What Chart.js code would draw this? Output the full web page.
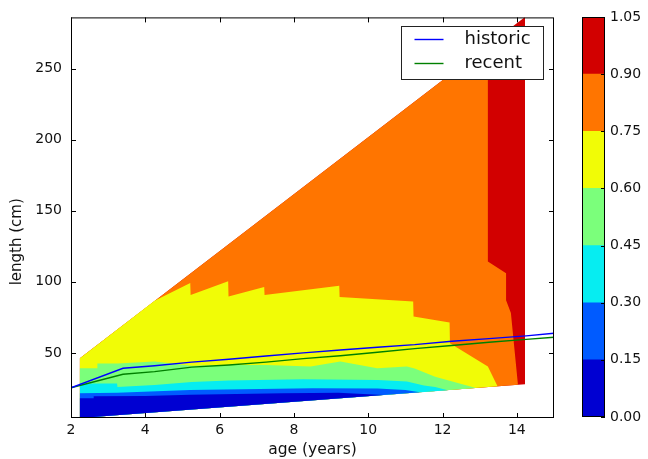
<!DOCTYPE html>
<html>
<head>
<meta charset="utf-8">
<script src="https://cdn.jsdelivr.net/npm/chart.js@4.4.1/dist/chart.umd.min.js"></script>
<style>
  html, body { margin: 0; padding: 0; background: #fff; }
  .wrap { position: relative; width: 648px; height: 459px; }
  .wrap canvas { position: absolute; left: 0; top: 0; }
</style>
</head>
<body>
<div class="wrap">
  <canvas id="contourChart" width="648" height="459"></canvas>
  <canvas id="colorbar" width="648" height="459"></canvas>
</div>
<script>
// ============================================
//  DATA
// ============================================
const ageTicks = [2, 4, 6, 8, 10, 12, 14];
const lengthTicks = [50, 100, 150, 200, 250];
const levels = [0, 0.15, 0.30, 0.45, 0.60, 0.75, 0.90, 1.05];
const bandColors = ['#0000d2', '#005bff', '#06edf1', '#7bff7b', '#f1fc06', '#ff7500', '#d20000'];

// corner where the sampled region starts (bottom left)
const cornerAge = 2.24;
const cornerLen = 4.2;

// upper edge of each filled level (age -> length), ending on the lower edge
const top15Age = [2.24, 2.6, 2.61, 4.0, 5.2, 7.7, 8.5, 9.2, 10.4];
const top15Len = [18.1, 18.1, 19.5, 19.7, 20.6, 21.6, 21.8, 22.0, 20.4];

const top30Age = [2.24, 3.25, 5.2, 8.5, 10.25, 11.0, 11.39];
const top30Len = [21.6, 22.0, 23.9, 25.1, 25.0, 23.9, 22.3];

const top45Age = [2.24, 3.24, 3.25, 4.25, 5.25, 6.25, 8.25, 10.25, 11.04, 11.5, 11.8, 12.14];
const top45Len = [28.5, 28.5, 26.0, 27.5, 29.5, 30.5, 31.5, 31.0, 29.8, 27.0, 26.0, 23.8];

const top60Age = [2.24, 2.7, 2.71, 3.25, 4.25, 5.25, 6.25, 7.25, 8.45, 9.25, 10.24, 11.04, 11.25, 11.8, 12.9];
const top60Len = [39.2, 39.2, 42.5, 42.5, 44.0, 41.0, 41.5, 41.5, 40.4, 43.9, 39.2, 40.4, 39.0, 33.3, 25.3];

const top75Age = [2.24, 4.25, 5.21, 5.22, 6.23, 6.24, 7.2, 7.21, 9.22, 9.23, 11.21, 11.22, 12.19, 12.2, 13.22, 13.48];
const top75Len = [46.3, 86.6, 99.1, 90.8, 100.4, 89.6, 96.3, 90.8, 97.3, 89.4, 86.1, 75.6, 71.3, 56.8, 40.4, 26.5];

const top90Age = [2.24, 13.22, 13.22, 13.71, 13.71, 13.84, 14.03];
const top90Len = [46.3, 266.2, 114.3, 106.1, 87.0, 78.0, 27.6];

const top105Age = [2.24, 14.22, 14.22];
const top105Len = [46.3, 286.3, 28.0];

// growth curves
const curveAge = [2, 3.4, 4.25, 5.25, 6.25, 7.25, 8.25, 9.25, 10.25, 11.25, 12.25, 13.25, 14.25, 15];
const historicLen = [25.5, 39.2, 41.0, 43.5, 45.5, 47.8, 50.0, 52.0, 54.0, 55.8, 58.2, 60.0, 62.0, 63.8];
const recentLen = [25.5, 35.0, 36.8, 40.0, 41.5, 43.5, 46.0, 48.0, 50.5, 53.0, 55.2, 57.5, 59.5, 61.0];

const seriesNames = ['historic', 'recent'];
const seriesColors = ['#0000ff', '#008000'];

// ============================================
//  BUILD DATASETS
// ============================================
const bandTops = [
  [top15Age, top15Len], [top30Age, top30Len], [top45Age, top45Len], [top60Age, top60Len],
  [top75Age, top75Len], [top90Age, top90Len], [top105Age, top105Len]
];

// region below a level line, closed back to the bottom-left corner
function regionBelow(ages, lens) {
  const pts = ages.map((a, i) => ({ x: a, y: lens[i] }));
  pts.push({ x: cornerAge, y: cornerLen });
  return pts;
}

// higher levels are painted first, lower ones on top
const bandSets = bandTops.map(([ages, lens], i) => ({
  label: levels[i].toFixed(2) + '-' + levels[i + 1].toFixed(2),
  data: regionBelow(ages, lens),
  backgroundColor: bandColors[i],
  borderColor: 'rgba(0,0,0,0)',
  borderWidth: 0,
  pointRadius: 0,
  tension: 0,
  fill: 'shape',
  order: i + 1
}));

const curveSets = [historicLen, recentLen].map((lens, i) => ({
  label: seriesNames[i],
  data: curveAge.map((a, j) => ({ x: a, y: lens[j] })),
  borderColor: seriesColors[i],
  borderWidth: 1.4,
  pointRadius: 0,
  tension: 0,
  fill: false,
  order: 0
}));

const FONT = 'DejaVu Sans';
const TXT = '#111';

// ============================================
//  FRAME, INWARD TICKS, Y TITLE, LEGEND
// ============================================
const framePlugin = {
  id: 'frame',
  afterDraw(chart) {
    const { ctx, chartArea: a, scales } = chart;
    ctx.save();
    ctx.strokeStyle = '#000';
    ctx.lineWidth = 1;
    ctx.strokeRect(a.left + 0.5, a.top + 0.5, a.width - 1, a.height - 1);

    ctx.beginPath();
    ageTicks.forEach(v => {
      const px = Math.round(scales.x.getPixelForValue(v)) + 0.5;
      ctx.moveTo(px, a.bottom); ctx.lineTo(px, a.bottom - 5);
      ctx.moveTo(px, a.top); ctx.lineTo(px, a.top + 5);
    });
    lengthTicks.forEach(v => {
      const py = Math.round(scales.y.getPixelForValue(v)) + 0.5;
      ctx.moveTo(a.left, py); ctx.lineTo(a.left + 5, py);
      ctx.moveTo(a.right, py); ctx.lineTo(a.right - 5, py);
    });
    ctx.stroke();

    // y axis title, sits a bit below the middle of the frame
    ctx.save();
    ctx.translate(17, a.top + a.height * 0.56);
    ctx.rotate(-Math.PI / 2);
    ctx.font = '15px "' + FONT + '"';
    ctx.fillStyle = TXT;
    ctx.textAlign = 'center';
    ctx.textBaseline = 'middle';
    ctx.fillText('length (cm)', 0, 0);
    ctx.restore();

    // legend box, upper right
    const bw = 142, bh = 53;
    const bx = Math.round(a.right - 11 - bw) + 0.5;
    const by = Math.round(a.top + 9) + 0.5;
    ctx.fillStyle = '#fff';
    ctx.fillRect(bx, by, bw, bh);
    ctx.strokeStyle = '#222';
    ctx.strokeRect(bx, by, bw, bh);

    ctx.font = '18px "' + FONT + '"';
    ctx.textBaseline = 'middle';
    ctx.textAlign = 'left';
    seriesNames.forEach((name, i) => {
      const ry = by + 13 + i * 24;
      ctx.strokeStyle = seriesColors[i];
      ctx.lineWidth = 1.4;
      ctx.beginPath();
      ctx.moveTo(bx + 13, ry); ctx.lineTo(bx + 42, ry);
      ctx.stroke();
      ctx.fillStyle = TXT;
      ctx.fillText(name, bx + 63, ry);
    });
    ctx.restore();
  }
};

new Chart(document.getElementById('contourChart'), {
  type: 'line',
  data: { datasets: [...curveSets, ...bandSets] },
  options: {
    responsive: false,
    animation: false,
    layout: { padding: { left: 0, top: 17, right: 94, bottom: 0 } },
    plugins: { legend: { display: false }, tooltip: { enabled: false } },
    scales: {
      x: {
        type: 'linear',
        min: 2,
        max: 15,
        grid: { display: false, drawTicks: false },
        border: { display: false },
        afterBuildTicks: s => { s.ticks = ageTicks.map(v => ({ value: v })); },
        afterFit: s => { s.height = 41; },
        ticks: { color: TXT, font: { family: FONT, size: 14 }, padding: 4, maxRotation: 0 },
        title: { display: true, text: 'age (years)', color: TXT, font: { family: FONT, size: 15.5 }, padding: { top: 0, bottom: 0 } }
      },
      y: {
        type: 'linear',
        min: 4.2,
        max: 286,
        grid: { display: false, drawTicks: false },
        border: { display: false },
        afterBuildTicks: s => { s.ticks = lengthTicks.map(v => ({ value: v })); },
        afterFit: s => { s.width = 71; },
        ticks: { color: TXT, font: { family: FONT, size: 14 }, padding: 9 }
      }
    }
  },
  plugins: [framePlugin]
});

// ============================================
//  COLORBAR
// ============================================
const colorbarFrame = {
  id: 'cbarFrame',
  afterDraw(chart) {
    const { ctx, chartArea: a, scales } = chart;
    ctx.save();
    ctx.strokeStyle = '#000';
    ctx.lineWidth = 1;
    ctx.strokeRect(a.left + 0.5, a.top + 0.5, a.width - 1, a.height - 1);
    ctx.beginPath();
    levels.forEach(v => {
      const py = Math.round(scales.y.getPixelForValue(v)) + 0.5;
      ctx.moveTo(a.right, py); ctx.lineTo(a.right - 4, py);
    });
    ctx.stroke();
    ctx.restore();
  }
};

new Chart(document.getElementById('colorbar'), {
  type: 'bar',
  data: {
    labels: [''],
    datasets: bandColors.map((c, i) => ({
      label: levels[i].toFixed(2),
      data: [levels[i + 1] - levels[i]],
      backgroundColor: c,
      borderWidth: 0,
      barPercentage: 1,
      categoryPercentage: 1
    }))
  },
  options: {
    responsive: false,
    animation: false,
    layout: { padding: { left: 582, top: 17, right: 0, bottom: 42 } },
    plugins: { legend: { display: false }, tooltip: { enabled: false } },
    scales: {
      x: { stacked: true, display: false },
      y: {
        stacked: true,
        position: 'right',
        min: 0,
        max: 1.05,
        grid: { display: false, drawTicks: false },
        border: { display: false },
        afterBuildTicks: s => { s.ticks = levels.map(v => ({ value: v })); },
        afterFit: s => { s.width = 43; },
        ticks: { color: TXT, font: { family: FONT, size: 14 }, padding: 5, callback: v => Number(v).toFixed(2) }
      }
    }
  },
  plugins: [colorbarFrame]
});
</script>
</body>
</html>
